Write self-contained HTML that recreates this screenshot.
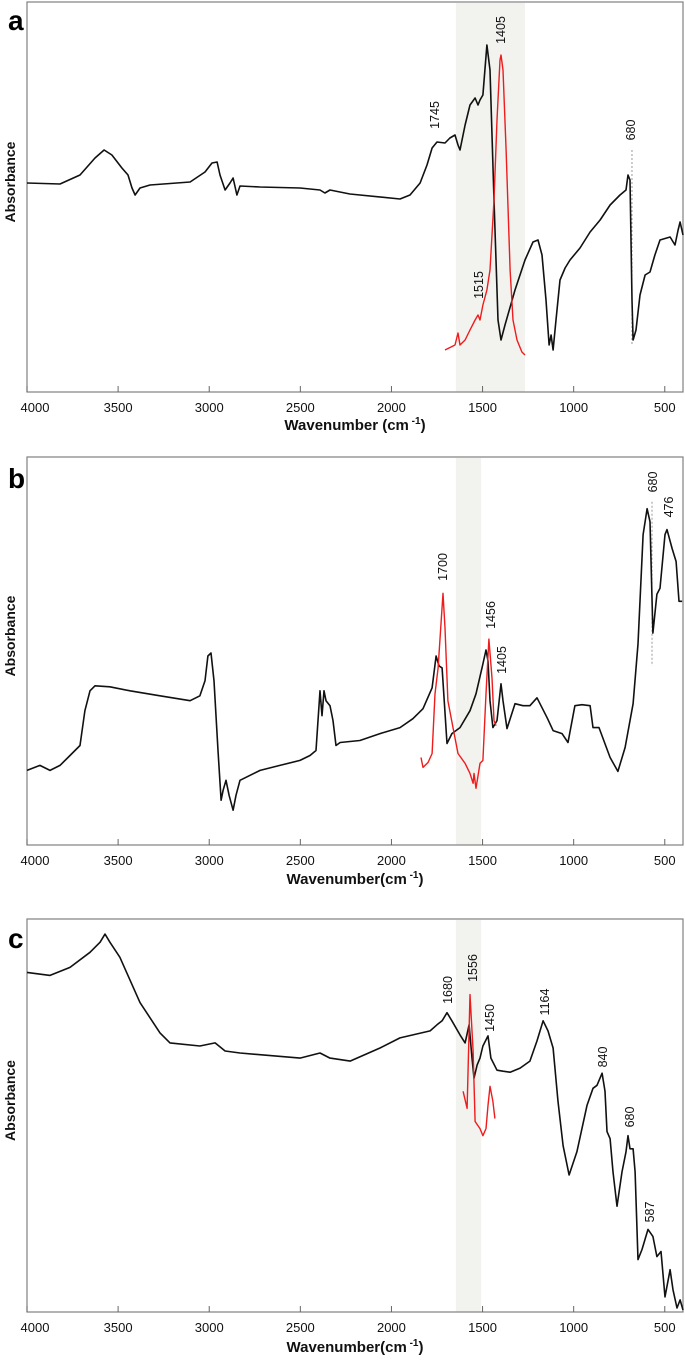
<!DOCTYPE html>
<html><head><meta charset="utf-8"><style>
html,body{margin:0;padding:0;background:#fff;}
svg{display:block;font-family:"Liberation Sans",Arial,sans-serif;}
</style></head><body>
<svg id="fig" width="685" height="1361" viewBox="0 0 685 1361" xmlns="http://www.w3.org/2000/svg"></svg>
<script>
// ---------- data (wavenumber cm-1, absorbance a.u.) ----------
const tickLabels = [4000,3500,3000,2500,2000,1500,1000,500];

const aBlackWn = [4000,3819,3709,3627,3577,3534,3479,3446,3424,3407,3380,3325,3105,3023,2985,2957,2941,2913,2886,2869,2848,2831,2721,2502,2392,2365,2337,2228,1953,1898,1843,1805,1777,1750,1706,1679,1651,1635,1624,1596,1569,1541,1525,1514,1498,1476,1459,1437,1415,1399,1377,1322,1267,1223,1196,1174,1152,1135,1124,1113,1097,1075,1047,1020,965,910,855,800,746,713,702,691,680,674,658,636,608,581,554,526,471,444,427,416,400];
const aBlackAbs = [2.09,2.08,2.17,2.34,2.42,2.37,2.24,2.17,2.04,1.97,2.04,2.07,2.10,2.20,2.29,2.30,2.17,2.02,2.09,2.14,1.97,2.06,2.05,2.04,2.02,1.99,2.02,1.98,1.93,1.97,2.09,2.27,2.44,2.50,2.49,2.54,2.57,2.47,2.42,2.67,2.87,2.94,2.87,2.92,2.97,3.47,3.22,1.92,0.72,0.52,0.67,1.02,1.32,1.50,1.52,1.37,0.92,0.47,0.57,0.42,0.72,1.12,1.24,1.32,1.44,1.60,1.72,1.87,1.97,2.02,2.17,2.12,0.92,0.52,0.62,0.97,1.17,1.20,1.37,1.52,1.55,1.47,1.62,1.70,1.57];
const aRedWn = [1706,1651,1635,1624,1596,1569,1541,1525,1514,1498,1476,1459,1437,1421,1404,1399,1388,1371,1349,1333,1311,1284,1267];
const aRedAbs = [0.42,0.47,0.59,0.47,0.52,0.62,0.72,0.77,0.72,0.87,1.02,1.22,1.92,2.72,3.32,3.37,3.22,2.42,1.22,0.72,0.52,0.40,0.37];

const bBlackWn = [4000,3929,3874,3819,3764,3709,3682,3654,3627,3545,3435,3270,3105,3051,3023,3007,2990,2974,2952,2935,2924,2908,2891,2869,2853,2831,2721,2612,2502,2447,2414,2403,2392,2381,2370,2359,2337,2321,2304,2282,2173,2063,1953,1882,1827,1777,1755,1739,1722,1695,1668,1624,1569,1536,1503,1481,1470,1459,1443,1421,1399,1388,1366,1322,1278,1240,1201,1146,1113,1064,1031,993,954,910,894,861,800,757,718,674,647,619,597,581,565,543,526,499,488,460,438,422,405];
const bBlackAbs = [0.75,0.80,0.75,0.80,0.90,1.00,1.35,1.55,1.60,1.59,1.55,1.50,1.45,1.50,1.65,1.90,1.93,1.65,0.95,0.45,0.55,0.65,0.50,0.35,0.50,0.65,0.75,0.80,0.85,0.90,0.95,1.25,1.55,1.30,1.55,1.45,1.40,1.25,1.00,1.03,1.05,1.12,1.18,1.27,1.37,1.58,1.90,1.80,1.78,1.02,1.12,1.18,1.35,1.52,1.78,1.96,1.85,1.45,1.18,1.25,1.62,1.45,1.17,1.42,1.40,1.40,1.48,1.28,1.15,1.12,1.03,1.40,1.41,1.40,1.18,1.18,0.88,0.74,0.98,1.42,2.02,3.12,3.38,3.25,2.13,2.52,2.58,3.12,3.17,2.98,2.85,2.45,2.45];
const bRedWn = [1838,1827,1799,1777,1761,1744,1717,1706,1690,1662,1635,1596,1569,1552,1547,1536,1514,1498,1481,1465,1448,1437,1426];
const bRedAbs = [0.88,0.78,0.83,0.92,1.52,1.78,2.53,2.18,1.45,1.18,0.92,0.82,0.72,0.62,0.72,0.57,0.82,0.85,1.52,2.07,1.68,1.25,1.20];

const cBlackWn = [4000,3874,3764,3654,3599,3572,3545,3490,3380,3270,3215,3051,2968,2913,2831,2502,2392,2337,2227,2063,1953,1788,1750,1722,1695,1668,1624,1596,1574,1558,1547,1530,1514,1498,1470,1454,1421,1388,1349,1294,1240,1201,1168,1141,1113,1086,1058,1025,982,927,894,872,844,828,817,800,784,762,735,713,702,691,674,663,647,625,592,565,543,521,499,471,455,433,416,400];
const cBlackAbs = [3.37,3.34,3.42,3.57,3.67,3.75,3.67,3.52,3.07,2.77,2.67,2.64,2.67,2.59,2.57,2.52,2.57,2.52,2.49,2.62,2.72,2.79,2.85,2.89,2.97,2.89,2.75,2.67,2.85,2.52,2.32,2.45,2.52,2.64,2.74,2.52,2.40,2.39,2.38,2.42,2.49,2.69,2.89,2.79,2.62,2.09,1.65,1.36,1.59,2.05,2.22,2.25,2.37,2.19,1.79,1.72,1.39,1.05,1.39,1.59,1.75,1.62,1.62,1.39,0.52,0.62,0.82,0.75,0.55,0.60,0.15,0.42,0.22,0.04,0.12,0.02];
const cRedWn = [1607,1585,1569,1552,1541,1514,1498,1481,1470,1459,1443,1432];
const cRedAbs = [2.19,2.02,3.15,2.59,1.89,1.82,1.75,1.82,2.05,2.24,2.09,1.92];

// ---------- layout ----------
const NS = 'http://www.w3.org/2000/svg';
const svg = document.getElementById('fig');
const X0 = 27, X1 = 683;
function xs(wn){ return X0 + (4000 - wn) / 3600 * (X1 - X0); }
function mk(tag, attrs, parent){
  const e = document.createElementNS(NS, tag);
  for (const k in attrs) e.setAttribute(k, attrs[k]);
  (parent || svg).appendChild(e);
  return e;
}
const panels = [
  {id:'a', top:2, bottom:392, band:[1646,1267], black:[aBlackWn,aBlackAbs], red:[aRedWn,aRedAbs],
   dash:{wn:680, a0:2.42, a1:0.47}, tickY:407, titleY:430, title:'Wavenumber (cm', letterY:30,
   notes:[['1745',435,115],['1405',501,30],['1515',479,285],['680',631,130]]},
  {id:'b', top:457, bottom:845, band:[1646,1508], black:[bBlackWn,bBlackAbs], red:[bRedWn,bRedAbs],
   dash:{wn:570, a0:3.45, a1:1.80}, tickY:860, titleY:884, title:'Wavenumber(cm', letterY:488,
   notes:[['1700',443,567],['1456',491,615],['1405',502,660],['680',653,482],['476',669,507]]},
  {id:'c', top:919, bottom:1312, band:[1646,1508], black:[cBlackWn,cBlackAbs], red:[cRedWn,cRedAbs],
   dash:null, tickY:1327, titleY:1352, title:'Wavenumber(cm', letterY:948,
   notes:[['1680',448,990],['1556',473,968],['1450',490,1018],['1164',545,1002],['840',603,1057],['680',630,1117],['587',650,1212]]}
];

panels.forEach(p => {
  const g = mk('g', {});
  
  
  const h = p.bottom - p.top;
  const ys = a => p.bottom - a / 3.9 * h;
  const band = mk('rect', {x:xs(p.band[0]), y:p.top+1, width:xs(p.band[1])-xs(p.band[0]), height:h-1, fill:'#f2f2ef'}, g);
  
  
  const frame = mk('rect', {x:X0, y:p.top, width:X1-X0, height:h, fill:'none', stroke:'#808080', 'stroke-width':1.2}, g);
  
  
  tickLabels.forEach(t => {
    const tk = mk('line', {x1:xs(t), x2:xs(t), y1:p.bottom, y2:p.bottom-6, stroke:'#666', 'stroke-width':1}, g);
    
    
    const tl = mk('text', {x:xs(t)+(t===4000?8:0), y:p.tickY+5, 'text-anchor':'middle', 'font-size':13, fill:'#111', transform:'scale(1,1)'}, g);
    tl.textContent = t;
    
    
  });
  const tt = mk('text', {x:355, y:p.titleY, 'text-anchor':'middle', 'font-size':15, 'font-weight':'bold', fill:'#111'}, g);
  
  
  tt.appendChild(document.createTextNode(p.title));
  const sup = mk('tspan', {dy:-6, 'font-size':10}, tt); sup.textContent = ' -1';
  const cl = mk('tspan', {dy:6}, tt); cl.textContent = ')';
  const yt = mk('text', {x:0, y:0, 'text-anchor':'middle', 'font-size':14, 'font-weight':'bold', fill:'#111',
    transform:'translate(15,' + ((p.top+p.bottom)/2 - 15) + ') rotate(-90)'}, g);
  yt.textContent = 'Absorbance';
  
  
  const lt = mk('text', {x:8, y:p.letterY, 'font-size':28, 'font-weight':'bold', fill:'#000'}, g);
  lt.textContent = p.id;
  
  
  if (p.dash) {
    const dl = mk('line', {x1:xs(p.dash.wn), x2:xs(p.dash.wn), y1:ys(p.dash.a0), y2:ys(p.dash.a1), stroke:'#999', 'stroke-width':1, 'stroke-dasharray':'2,2'}, g);
    
    
  }
  const path = (wn, ab) => wn.map((w,i) => (i?'L':'M') + xs(w).toFixed(1) + ',' + ys(ab[i]).toFixed(1)).join(' ');
  const bl = mk('path', {d:path(p.black[0], p.black[1]), fill:'none', stroke:'#111', 'stroke-width':1.6, 'stroke-linejoin':'round'}, g);
  
  
  const rl = mk('path', {d:path(p.red[0], p.red[1]), fill:'none', stroke:'#ee1c1c', 'stroke-width':1.4, 'stroke-linejoin':'round'}, g);
  
  
  p.notes.forEach(n => {
    const t = mk('text', {x:0, y:0, 'text-anchor':'middle', 'font-size':12.5, fill:'#111',
      transform:'translate(' + (n[1]+4) + ',' + n[2] + ') rotate(-90)'}, g);
    t.textContent = n[0];
    
    
  });
});
</script>
</body></html>
